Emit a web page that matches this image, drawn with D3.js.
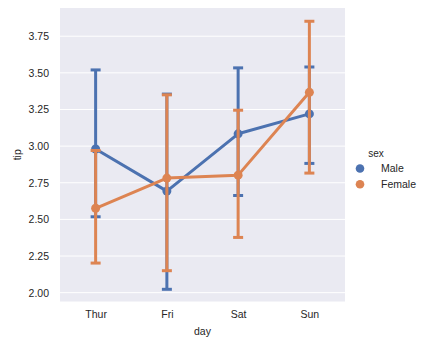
<!DOCTYPE html>
<html>
<head>
<meta charset="utf-8">
<script src="https://cdn.jsdelivr.net/npm/d3@7"></script>
<style>
  html, body { margin: 0; padding: 0; background: #ffffff; }
  svg { display: block; font-family: "Liberation Sans", Arial, sans-serif; }
</style>
</head>
<body>
<svg id="chart" width="430" height="344"></svg>
<script>
// Mean tip by day, split by sex, with 95% confidence intervals
const days = ["Thur", "Fri", "Sat", "Sun"];
const sexes = ["Male", "Female"];
const maleMean = [2.980, 2.693, 3.084, 3.220];
const maleLow  = [2.518, 2.023, 2.663, 2.882];
const maleHigh = [3.520, 3.355, 3.534, 3.540];
const femaleMean = [2.576, 2.782, 2.802, 3.367];
const femaleLow  = [2.202, 2.150, 2.377, 2.816];
const femaleHigh = [2.970, 3.350, 3.245, 3.852];
const yTicks = [2.00, 2.25, 2.50, 2.75, 3.00, 3.25, 3.50, 3.75];
const colors = ["#4C72B0", "#DD8452"];

const series = [
  { name: sexes[0], mean: maleMean, low: maleLow, high: maleHigh, color: colors[0] },
  { name: sexes[1], mean: femaleMean, low: femaleLow, high: femaleHigh, color: colors[1] }
];

const svg = d3.select("#chart");
const plotL = 60, plotR = 345, plotT = 8, plotB = 301.5;
const fontSize = "10.5px";

const x = d3.scalePoint().domain(days).range([plotL, plotR]).padding(0.5);
const y = d3.scaleLinear().domain([1.9398, 3.9425]).range([plotB, plotT]);

// Axes background
svg.append("rect")
  .attr("x", plotL).attr("y", plotT)
  .attr("width", plotR - plotL).attr("height", plotB - plotT)
  .attr("fill", "#EAEAF2");

// Horizontal grid lines
svg.append("g").selectAll("line").data(yTicks).join("line")
  .attr("x1", plotL).attr("x2", plotR)
  .attr("y1", d => y(d)).attr("y2", d => y(d))
  .attr("stroke", "#ffffff").attr("stroke-width", 1);

// Y axis tick labels
const yAxis = d3.axisLeft(y).tickValues(yTicks).tickFormat(d3.format(".2f")).tickSize(0).tickPadding(11);
const gy = svg.append("g").attr("transform", `translate(${plotL},0)`).call(yAxis);
gy.select(".domain").remove();
gy.selectAll("text").attr("fill", "#262626").style("font-size", fontSize)
  .style("font-family", "'Liberation Sans', Arial, sans-serif");

// X axis tick labels
const xAxis = d3.axisBottom(x).tickSize(0).tickPadding(9.5);
const gx = svg.append("g").attr("transform", `translate(0,${plotB})`).call(xAxis);
gx.select(".domain").remove();
gx.selectAll("text").attr("fill", "#262626").style("font-size", fontSize)
  .style("font-family", "'Liberation Sans', Arial, sans-serif");

// Axis titles
svg.append("text").attr("x", (plotL + plotR) / 2).attr("y", 334.5)
  .attr("text-anchor", "middle").attr("fill", "#262626").style("font-size", fontSize)
  .text("day");
svg.append("text").attr("transform", `translate(21,${(plotT + plotB) / 2}) rotate(-90)`)
  .attr("text-anchor", "middle").attr("fill", "#262626").style("font-size", fontSize)
  .text("tip");

// Point series with error bars
const capHalf = 5;
series.forEach(s => {
  const g = svg.append("g");
  const rows = days.map((d, i) => ({ day: d, mean: s.mean[i], low: s.low[i], high: s.high[i] }));

  // confidence interval bars and caps
  g.selectAll("line.ci").data(rows).join("line").attr("class", "ci")
    .attr("x1", d => x(d.day)).attr("x2", d => x(d.day))
    .attr("y1", d => y(d.low)).attr("y2", d => y(d.high))
    .attr("stroke", s.color).attr("stroke-width", 3);
  ["low", "high"].forEach(k => {
    g.selectAll(`line.cap-${k}`).data(rows).join("line").attr("class", `cap-${k}`)
      .attr("x1", d => x(d.day) - capHalf).attr("x2", d => x(d.day) + capHalf)
      .attr("y1", d => y(d[k])).attr("y2", d => y(d[k]))
      .attr("stroke", s.color).attr("stroke-width", 3);
  });

  // connecting line
  const line = d3.line().x(d => x(d.day)).y(d => y(d.mean));
  g.append("path").datum(rows).attr("d", line)
    .attr("fill", "none").attr("stroke", s.color).attr("stroke-width", 3)
    .attr("stroke-linejoin", "round");

  // markers
  g.selectAll("circle").data(rows).join("circle")
    .attr("cx", d => x(d.day)).attr("cy", d => y(d.mean)).attr("r", 4.5)
    .attr("fill", s.color);
});

// Legend
const legend = svg.append("g");
legend.append("text").attr("x", 376).attr("y", 156.5)
  .attr("text-anchor", "middle").attr("fill", "#262626").style("font-size", "10px")
  .text("sex");
sexes.forEach((name, i) => {
  const cy = 168.5 + i * 15.7;
  legend.append("circle").attr("cx", 360).attr("cy", cy).attr("r", 4.3).attr("fill", colors[i]);
  legend.append("text").attr("x", 381).attr("y", cy + 3.8)
    .attr("fill", "#262626").style("font-size", fontSize).text(name);
});
</script>
</body>
</html>
